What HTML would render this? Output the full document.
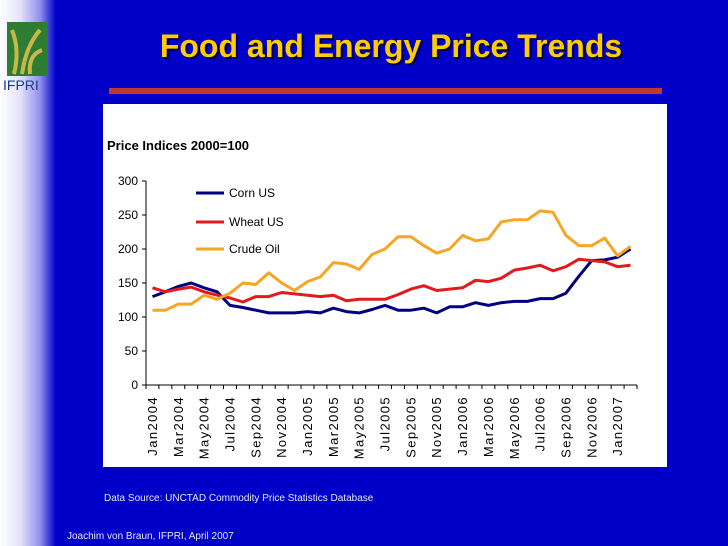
<!DOCTYPE html>
<html><head><meta charset="utf-8"><style>
body{margin:0;width:728px;height:546px;overflow:hidden;background:#0000c8;font-family:"Liberation Sans",sans-serif}
#bg{position:absolute;left:0;top:0;width:728px;height:546px;background:linear-gradient(to right,#ffffff 0px,#e4e4fa 20px,#9090ee 40px,#0000c8 56px,#0000c8 100%)}
</style></head><body>
<div id="bg"></div>
<svg width="728" height="546" style="position:absolute;left:0;top:0">
<g>
<rect x="7" y="22" width="40" height="54" fill="#2e7d32"/>
<path d="M14 74 Q20 50 12 30 M22 74 Q26 46 40 30 M30 74 Q28 55 42 50" stroke="#c8b84a" stroke-width="4" fill="none"/>
<text x="3" y="90" font-size="14" fill="#1a3a8a" font-family="Liberation Sans Narrow, Liberation Sans, sans-serif">IFPRI</text>
</g>
<text x="391" y="57" text-anchor="middle" font-size="32" font-weight="bold" fill="#000" opacity="0.6" transform="translate(2,2)">Food and Energy Price Trends</text>
<text x="391" y="57" text-anchor="middle" font-size="32" font-weight="bold" fill="#ffcc00">Food and Energy Price Trends</text>
<rect x="109" y="88" width="553" height="6" fill="#c0392b"/>
<rect x="103" y="104" width="564" height="363" fill="#fff"/>
<text x="107" y="150" font-size="13" font-weight="bold" fill="#000">Price Indices 2000=100</text>
<g id="chart"></g>
<text x="104" y="501" font-size="10" fill="#e8e8ff">Data Source: UNCTAD Commodity Price Statistics Database</text>
<text x="67" y="539" font-size="10" fill="#e8e8ff">Joachim von Braun, IFPRI, April 2007</text>
</svg>
<script>
const months=["Jan","Feb","Mar","Apr","May","Jun","Jul","Aug","Sep","Oct","Nov","Dec"];
const categories=[];
for(let y=2004;y<=2007;y++)for(let m=0;m<12;m++){if(categories.length<38)categories.push(months[m]+y);}
const corn=[130,137,145,150,143,137,117,114,110,106,106,106,108,106,113,108,106,111,117,110,110,113,106,115,115,121,117,121,123,123,127,127,135,160,183,184,188,200];
const wheat=[143,137,141,144,137,132,128,122,130,130,136,134,132,130,132,124,126,126,126,133,141,146,139,141,143,154,152,157,169,172,176,168,174,185,183,181,174,176];
const oil=[110,110,119,119,132,126,135,150,148,165,150,139,152,159,180,178,170,192,200,218,218,205,194,200,220,212,215,240,243,243,256,254,220,205,205,216,190,204];
const yTicks=[0,50,100,150,200,250,300];
const seriesNames=["Corn US","Wheat US","Crude Oil"];
const seriesColors=["#000080","#e31a1c","#f5a623"];
const series=[corn,wheat,oil];

const NS="http://www.w3.org/2000/svg";
const g=document.getElementById('chart');
const x0=146,x1=637,yTop=181,yBot=385,yMax=300;
const band=(x1-x0)/categories.length;
const xs=i=>x0+band*(i+0.5);
const ys=v=>yBot-(v/yMax)*(yBot-yTop);
function el(t,a){const e=document.createElementNS(NS,t);for(const k in a)e.setAttribute(k,a[k]);g.appendChild(e);return e;}

let ax=el('line',{x1:x0,y1:yTop,x2:x0,y2:yBot,stroke:'#000','stroke-width':1});


yTicks.forEach(v=>{
  const t=el('line',{x1:x0-4,y1:ys(v),x2:x0,y2:ys(v),stroke:'#000'});
  
  
  const l=el('text',{x:x0-8,y:ys(v)+4,'text-anchor':'end','font-size':12,fill:'#000'});
  l.textContent=v;
  
  
});
let bx=el('line',{x1:x0,y1:yBot,x2:x1,y2:yBot,stroke:'#000'});


for(let i=0;i<=categories.length;i++){
  const t=el('line',{x1:x0+band*i,y1:yBot,x2:x0+band*i,y2:yBot+4,stroke:'#000'});
  
  
}
categories.forEach((c,i)=>{
  if(i%2)return;
  const tx=xs(i)+4.5,ty=yBot+11;
  const l=el('text',{x:tx,y:ty,'text-anchor':'end','font-size':13,'letter-spacing':'1.4',fill:'#000',transform:`rotate(-90 ${tx} ${ty})`});
  l.textContent=c;
  
  
});
series.forEach((s,k)=>{
  const p=el('polyline',{points:s.map((v,i)=>xs(i).toFixed(1)+','+ys(v).toFixed(1)).join(' '),fill:'none',stroke:seriesColors[k],'stroke-width':3,'stroke-linejoin':'round'});
  
  
});
const legY=[193,222,249];
seriesNames.forEach((n,k)=>{
  const l=el('line',{x1:196,y1:legY[k],x2:224,y2:legY[k],stroke:seriesColors[k],'stroke-width':3});
  
  
  const t=el('text',{x:229,y:legY[k]+4,'font-size':12,fill:'#000'});
  t.textContent=n;
  
  
});
</script>
</body></html>
